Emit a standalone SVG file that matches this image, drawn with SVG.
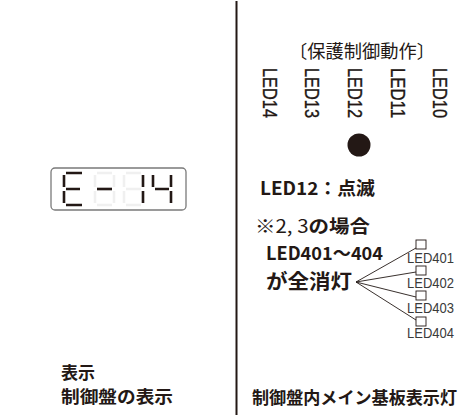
<svg xmlns="http://www.w3.org/2000/svg" width="473" height="417" viewBox="0 0 473 417">
<style>
  .ink { fill: #231815; }
  .jp { font-family: "Noto Sans CJK JP", "Noto Sans", sans-serif; fill: #231815; }
  .b { font-weight: bold; }
  .led { font-family: "Liberation Sans", "Noto Sans", sans-serif; fill: #231815; stroke: #231815; stroke-width: 0.35; font-size: 20px; }
  .small { font-family: "Liberation Sans", "Noto Sans", sans-serif; fill: #3a3a3a; font-size: 14px; }
  .seg { stroke: #231815; stroke-width: 2.6; fill: none; }
  .ghost { stroke: #f0f0f0; stroke-width: 2.6; fill: none; }
  .wire { stroke: #231815; stroke-width: 0.9; fill: none; }
  .box { stroke: #231815; stroke-width: 0.9; fill: #fff; }
</style>
<rect width="473" height="417" fill="#fff"/>

<!-- divider -->
<line x1="236.5" y1="1" x2="236.5" y2="415" stroke="#231815" stroke-width="2"/>

<!-- 7-segment display -->
<g id="display">
  <rect x="51" y="168" width="135" height="42" rx="4" fill="#fff" stroke="#7a7a7a" stroke-width="1.3"/>
  <!-- ghost digits 2 and 3 -->
  <g class="ghost">
    <path d="M97 173H112 M114 175V187 M114 191V203 M97 205H112 M95 191V203 M95 175V187 M97 189H112"/>
    <path d="M126 173H141 M143 175V187 M143 191V203 M126 205H141 M124 191V203 M124 175V187 M126 189H141"/>
  </g>
  <g class="seg">
    <!-- E -->
    <path d="M66 173H82 M64 175V187 M64 191V203 M66 205H82 M66 189H80"/>
    <!-- - -->
    <path d="M97 189H112"/>
    <!-- 1 -->
    <path d="M143 175V187 M143 191V203"/>
    <!-- 4 -->
    <path d="M153 175V187 M155 189H169 M171 175V187 M171 191V203"/>
  </g>
</g>

<!-- title -->
<g id="title">
  <text class="jp" x="289" y="58" font-size="18" textLength="146" lengthAdjust="spacingAndGlyphs">〔保護制御動作〕</text>
</g>

<!-- LED column labels (rotated) -->
<g id="led14"><text class="led" transform="translate(263,68) rotate(90)" textLength="50" lengthAdjust="spacingAndGlyphs">LED14</text></g>
<g id="led13"><text class="led" transform="translate(305,68) rotate(90)" textLength="50" lengthAdjust="spacingAndGlyphs">LED13</text></g>
<g id="led12"><text class="led" transform="translate(348,68) rotate(90)" textLength="50" lengthAdjust="spacingAndGlyphs">LED12</text></g>
<g id="led11"><text class="led" transform="translate(391,68) rotate(90)" textLength="50" lengthAdjust="spacingAndGlyphs">LED11</text></g>
<g id="led10"><text class="led" transform="translate(433,68) rotate(90)" textLength="50" lengthAdjust="spacingAndGlyphs">LED10</text></g>

<g id="led12-dot"><circle cx="359" cy="145" r="11.5" class="ink"/></g>

<g id="note1">
  <text class="jp b" x="260" y="195" font-size="18" textLength="115" lengthAdjust="spacingAndGlyphs">LED12：点滅</text>
</g>
<g id="note2">
  <text class="jp" x="255" y="233" font-size="18" textLength="115" lengthAdjust="spacingAndGlyphs">※2, 3<tspan font-weight="bold">の場合</tspan></text>
  <text class="jp b" x="266" y="260" font-size="18" textLength="117" lengthAdjust="spacingAndGlyphs">LED401～404</text>
  <text class="jp b" x="266" y="289" font-size="20" textLength="86" lengthAdjust="spacingAndGlyphs">が全消灯</text>
</g>

<!-- connectors -->
<g id="connectors">
  <path class="wire" d="M356 282L416 248 M356 282L416 272 M356 282L416 297 M356 282L416 320"/>
</g>

<g id="led401"><rect class="box" x="416" y="240" width="10" height="9"/><text class="small" x="407" y="263" textLength="47" lengthAdjust="spacingAndGlyphs">LED401</text></g>
<g id="led402"><rect class="box" x="416" y="266" width="10" height="9"/><text class="small" x="407" y="288" textLength="47" lengthAdjust="spacingAndGlyphs">LED402</text></g>
<g id="led403"><rect class="box" x="416" y="291" width="10" height="9"/><text class="small" x="407" y="313" textLength="47" lengthAdjust="spacingAndGlyphs">LED403</text></g>
<g id="led404"><rect class="box" x="416" y="317" width="10" height="9"/><text class="small" x="407" y="338" textLength="47" lengthAdjust="spacingAndGlyphs">LED404</text></g>

<!-- captions -->
<g id="caption-left">
  <text class="jp b" x="61" y="379" font-size="17">表示</text>
  <text class="jp b" x="61" y="403" font-size="17" textLength="112" lengthAdjust="spacingAndGlyphs">制御盤の表示</text>
</g>
<g id="caption-right">
  <text class="jp b" x="252" y="404" font-size="17" textLength="205" lengthAdjust="spacingAndGlyphs">制御盤内メイン基板表示灯</text>
</g>
</svg>
